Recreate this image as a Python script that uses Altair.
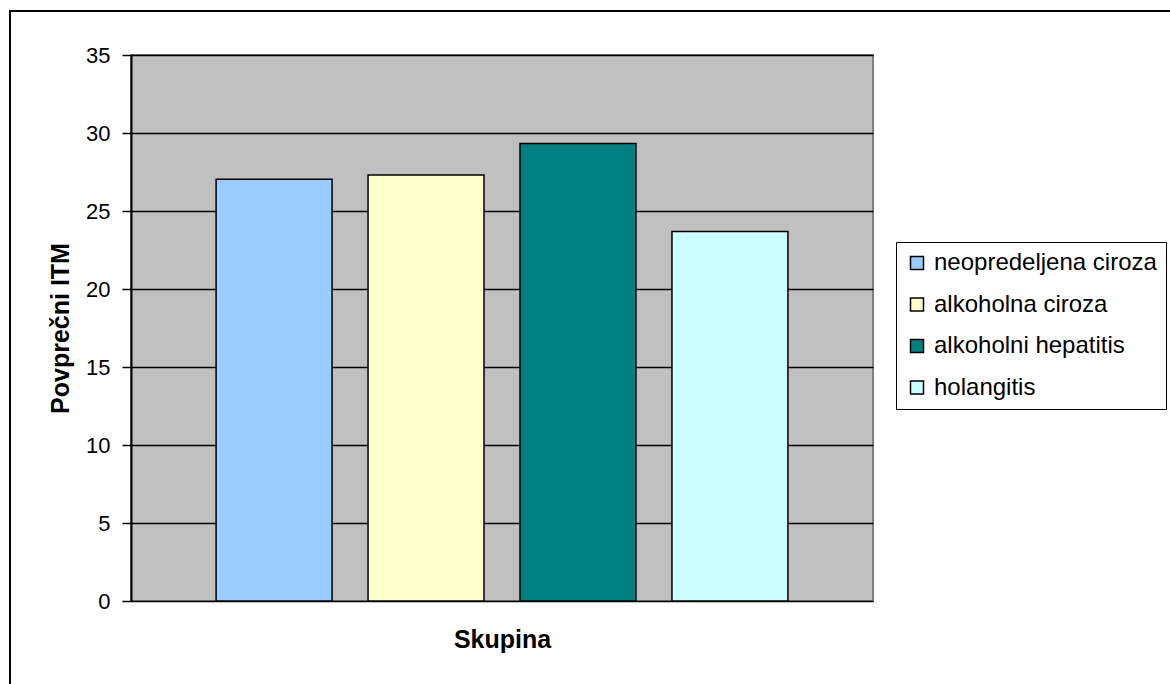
import altair as alt
import pandas as pd

groups = ["neopredeljena ciroza", "alkoholna ciroza", "alkoholni hepatitis", "holangitis"]
values = [27.03, 27.3, 29.33, 23.69]
colors = ["#99CCFF", "#FFFFCC", "#008080", "#CCFFFF"]
y_ticks = [0, 5, 10, 15, 20, 25, 30, 35]

df = pd.DataFrame({"Skupina": groups, "ITM": values})
FONT = "Liberation Sans"

bars = alt.Chart(df).mark_bar(stroke="black", strokeWidth=1.5).encode(
    x=alt.X("Skupina:N", sort=groups,
            scale=alt.Scale(paddingInner=0.237, paddingOuter=0.56),
            axis=alt.Axis(labels=False, ticks=False, domain=False, title="Skupina",
                          titlePadding=26, titleFontSize=25, titleFont=FONT,
                          titleFontWeight="bold", titleColor="black")),
    y=alt.Y("ITM:Q", scale=alt.Scale(domain=[0, 35], nice=False),
            axis=alt.Axis(values=y_ticks, title="Povprečni ITM", titleFontSize=25,
                          titleFont=FONT, titleFontWeight="bold", titleColor="black",
                          titlePadding=12, labelFontSize=22, labelFont=FONT,
                          labelColor="black", labelPadding=12, tickSize=9,
                          tickColor="black", tickWidth=1.5, domainColor="black",
                          domainWidth=2, gridColor="black", gridWidth=1.5)),
    color=alt.Color("Skupina:N", sort=groups,
                    scale=alt.Scale(domain=groups, range=colors),
                    legend=alt.Legend(title=None, orient="none", legendX=765, legendY=187,
                                      symbolType="square", symbolSize=169,
                                      symbolStrokeColor="black", symbolStrokeWidth=1.5,
                                      labelFontSize=24, labelFont=FONT, labelColor="black",
                                      rowPadding=17.5, padding=9, strokeColor="black",
                                      fillColor="white", labelOffset=5, labelLimit=500,
                                      symbolOpacity=1)),
)

frame_df = pd.DataFrame({"k": [0]})
frame = alt.Chart(frame_df).mark_rect(fillOpacity=0, stroke="black", strokeWidth=2).encode(
    x=alt.value(-121), x2=alt.value(1300), y=alt.value(-44), y2=alt.value(800)
)

chart = alt.layer(frame, bars).properties(
    width=742, height=546,
    padding={"left": 131, "top": 55, "right": 297, "bottom": 83},
    autosize="none",
    background="white",
).configure_view(
    fill="#C0C0C0", stroke="#808080", strokeWidth=2
)

chart.save("out.html", embed_options={"renderer": "svg", "actions": False})
